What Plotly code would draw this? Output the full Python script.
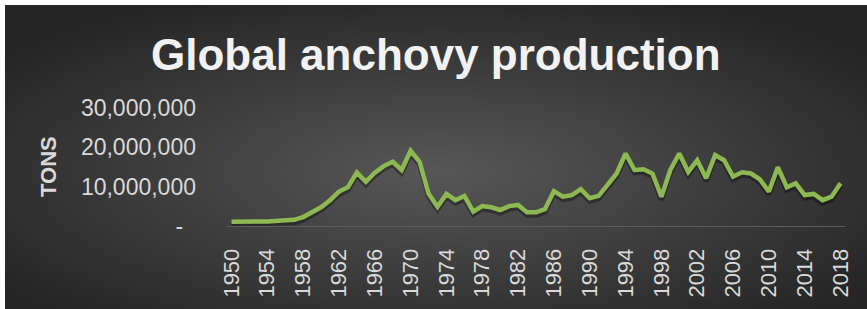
import plotly.graph_objects as go
import base64

years = list(range(1950, 2019))
tons_millions = [1.0, 1.1, 1.1, 1.1, 1.1, 1.2, 1.3, 1.5, 2.2, 3.3,
                 4.7, 6.5, 8.7, 9.8, 13.6, 11.2, 13.5, 15.2, 16.3, 14.2,
                 19.1, 16.3, 8.2, 4.8, 8.1, 6.5, 7.6, 3.6, 5.0, 4.7,
                 4.0, 5.0, 5.3, 3.4, 3.4, 4.2, 8.8, 7.4, 7.8, 9.3,
                 7.0, 7.6, 10.4, 13.3, 18.4, 14.2, 14.4, 13.3, 7.4, 14.2,
                 18.4, 13.7, 16.7, 12.1, 18.0, 16.7, 12.5, 13.6, 13.3, 11.8,
                 8.7, 14.9, 9.8, 10.8, 7.8, 8.1, 6.5, 7.4, 10.8]
tons = [v * 1_000_000 for v in tons_millions]
tick_years = list(range(1950, 2019, 4))
y_tickvals = [0, 10_000_000, 20_000_000, 30_000_000]
y_ticktext = ["-\u2007", "10,000,000", "20,000,000", "30,000,000"]

W, H = 867, 309
FONT = "Liberation Sans"

svg = f'''<svg xmlns="http://www.w3.org/2000/svg" width="{W-5}" height="{H-5}" preserveAspectRatio="none">
<defs><radialGradient id="g" cx="0.5" cy="0.55" r="0.62" gradientUnits="objectBoundingBox">
<stop offset="0" stop-color="#575757"/><stop offset="1" stop-color="#262626"/></radialGradient></defs>
<rect width="100%" height="100%" fill="url(#g)"/></svg>'''
bg = "data:image/svg+xml;base64," + base64.b64encode(svg.encode()).decode()

plot_left, plot_right = 227, 845
plot_top, plot_bottom = 108, 225.7

shift = 3 / (plot_bottom - plot_top) * 30_000_000

fig = go.Figure()
# soft shadow beneath the line (drawn on the lower, shifted axis)
fig.add_trace(go.Scatter(x=years, y=tons, mode="lines", yaxis="y",
                         line=dict(color="rgba(0,0,0,0.35)", width=5),
                         hoverinfo="skip", showlegend=False))
fig.add_trace(go.Scatter(x=years, y=tons, mode="lines", yaxis="y2",
                         line=dict(color="#8DB952", width=4.5),
                         showlegend=False))

fig.update_layout(
    template="none",
    width=W, height=H,
    margin=dict(l=0, r=0, t=0, b=0, pad=0, autoexpand=False),
    paper_bgcolor="white",
    plot_bgcolor="rgba(0,0,0,0)",
    images=[dict(source=bg, xref="paper", yref="paper",
                 x=5 / W, y=1 - 5 / H, sizex=(W - 5) / W, sizey=(H - 5) / H,
                 xanchor="left", yanchor="top", sizing="stretch", layer="below")],
    xaxis=dict(domain=[plot_left / W, plot_right / W],
               range=[1949.5, 2018.5], automargin=False,
               tickvals=tick_years, ticktext=[str(y) for y in tick_years],
               tickangle=-90, ticks="", showgrid=False, zeroline=False,
               showline=True, linecolor="#5c5c5c", linewidth=1.3,
               tickfont=dict(family=FONT, size=22, color="#d9d9d9"),
               ticklabelstandoff=13),
    yaxis=dict(domain=[1 - plot_bottom / H, 1 - plot_top / H],
               range=[shift, 30_000_000 + shift], automargin=False,
               visible=False, showgrid=False, zeroline=False),
    yaxis2=dict(overlaying="y", side="left", anchor="x",
                range=[0, 30_000_000], automargin=False,
                tickvals=y_tickvals, ticktext=y_ticktext,
                ticks="", showgrid=False, zeroline=False, showline=False,
                tickfont=dict(family=FONT, size=23, color="#d9d9d9"),
                ticklabelstandoff=30),
    annotations=[
        dict(text="<b>Global anchovy production</b>", xref="paper", yref="paper",
             x=436 / W, y=1 - 54 / H, xanchor="center", yanchor="middle",
             showarrow=False,
             font=dict(family=FONT, size=44, color="#f2f2f2")),
        dict(text="<b>TONS</b>", xref="paper", yref="paper",
             x=48 / W, y=1 - 167 / H, xanchor="center", yanchor="middle",
             textangle=-90, showarrow=False,
             font=dict(family=FONT, size=22, color="#d9d9d9")),
    ],
)

fig.write_html("out.html",
               config={"displayModeBar": False},
               post_script="document.body.style.margin='0';"
                           "document.body.style.overflow='hidden';")
